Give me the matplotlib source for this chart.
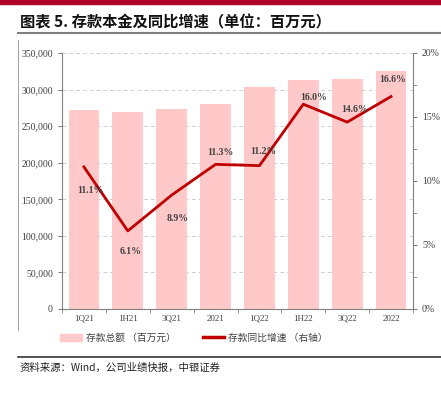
import matplotlib.pyplot as plt
from matplotlib.lines import Line2D
from matplotlib.patches import Patch
from matplotlib.ticker import MultipleLocator, FuncFormatter

plt.rcParams['font.family'] = ['Liberation Serif', 'Noto Sans CJK SC']

# data
quarters = ['1Q21', '1H21', '3Q21', '2021', '1Q22', '1H22', '3Q22', '2022']
deposits = [272000, 270000, 274000, 280000, 303000, 313000, 314500, 326000]
growth = [11.1, 6.1, 8.9, 11.3, 11.2, 16.0, 14.6, 16.6]
# label offsets in pixels (dx, dy)
label_off = [(6, -24), (3, -21), (6, -23), (5, 12), (4, 14), (10, 7), (7, 13), (2, 17)]

bar_color = '#ffc9c9'
line_color = '#c00000'
grey = '#808080'
text_grey = '#404040'

fig = plt.figure(figsize=(4.41, 3.94), dpi=100)

# top red band, title, rules
fig.patches.append(plt.Rectangle((0, 1 - 4 / 394), 1, 4 / 394, transform=fig.transFigure,
                                 color='#b0002a'))
fig.text(20 / 441, 1 - 22 / 394, '图表 5. 存款本金及同比增速（单位：百万元）',
         family=['Noto Sans CJK SC'], fontweight='bold', fontsize=11,
         va='center', ha='left', color='#111111')
fig.add_artist(Line2D([18 / 441, 1], [1 - 33 / 394] * 2, color='#808080', lw=1.5,
                      transform=fig.transFigure))
fig.add_artist(Line2D([18 / 441] * 2, [1 - 40 / 394, 1 - 330 / 394], color='#a0a0a0', lw=0.7,
                      transform=fig.transFigure))
fig.add_artist(Line2D([18 / 441, 1], [1 - 357 / 394] * 2, color='#333333', lw=1.2,
                      transform=fig.transFigure))
fig.text(20 / 441, 1 - 368 / 394, '资料来源：Wind，公司业绩快报，中银证券',
         family=['Noto Sans CJK SC'], style='italic', fontsize=7.5,
         va='center', ha='left', color='#222222')

ax = fig.add_axes([62 / 441, 1 - 309 / 394, 351 / 441, 256 / 394])
x = range(len(quarters))
ax.bar(x, deposits, width=0.7, color=bar_color, zorder=2)
ax.set_xlim(-0.5, len(quarters) - 0.5)
ax.set_ylim(0, 350000)
ax.yaxis.set_major_locator(MultipleLocator(50000))
ax.yaxis.set_major_formatter(FuncFormatter(lambda v, p: f'{int(v):,}'))
ax.grid(axis='y', color='#d0d0d0', ls=(0, (4, 3)), lw=0.7, zorder=0)
ax.set_xticks(list(x))
ax.set_xticklabels(quarters)
ax.set_xticks([i + 0.5 for i in range(-1, len(quarters))], minor=True)
ax.tick_params(axis='x', which='major', length=0, labelsize=6.5, pad=4, colors=text_grey)
ax.tick_params(axis='x', which='minor', length=3, color=grey, direction='out')
ax.tick_params(axis='y', length=3, color=grey, labelsize=7, colors=text_grey)
for s in ['top', 'right']:
    ax.spines[s].set_visible(False)
for s in ['left', 'bottom']:
    ax.spines[s].set_color(grey)
    ax.spines[s].set_linewidth(0.8)

ax2 = ax.twinx()
ax2.plot(x, growth, color=line_color, lw=2, zorder=3)
ax2.set_ylim(0, 20)
ax2.yaxis.set_major_locator(MultipleLocator(5))
ax2.yaxis.set_minor_locator(MultipleLocator(2.5))
ax2.yaxis.set_major_formatter(FuncFormatter(lambda v, p: f'{int(v)}%'))
ax2.tick_params(axis='y', which='both', length=3, color=grey, labelsize=7, colors=text_grey)
for s in ['top', 'left', 'bottom']:
    ax2.spines[s].set_visible(False)
ax2.spines['right'].set_color(grey)
ax2.spines['right'].set_linewidth(0.8)

for i, (g, (dx, dy)) in enumerate(zip(growth, label_off)):
    ax2.annotate(f'{g:.1f}%', (i, g), xytext=(dx, dy), textcoords='offset pixels',
                 ha='center', va='center', fontsize=7, fontweight='bold', color=text_grey)

handles = [Patch(color=bar_color), Line2D([], [], color=line_color, lw=2.5)]
labels = ['存款总额 （百万元）', '存款同比增速 （右轴）']
fig.legend(handles, labels, loc='center', bbox_to_anchor=(0.44, 1 - 338 / 394),
           ncol=2, frameon=False, prop={'family': ['Noto Sans CJK SC'], 'size': 7},
           handlelength=2.2, handleheight=0.8, handletextpad=0.4, columnspacing=2.8,
           labelcolor=text_grey)

fig.savefig('out.png', dpi=100)
